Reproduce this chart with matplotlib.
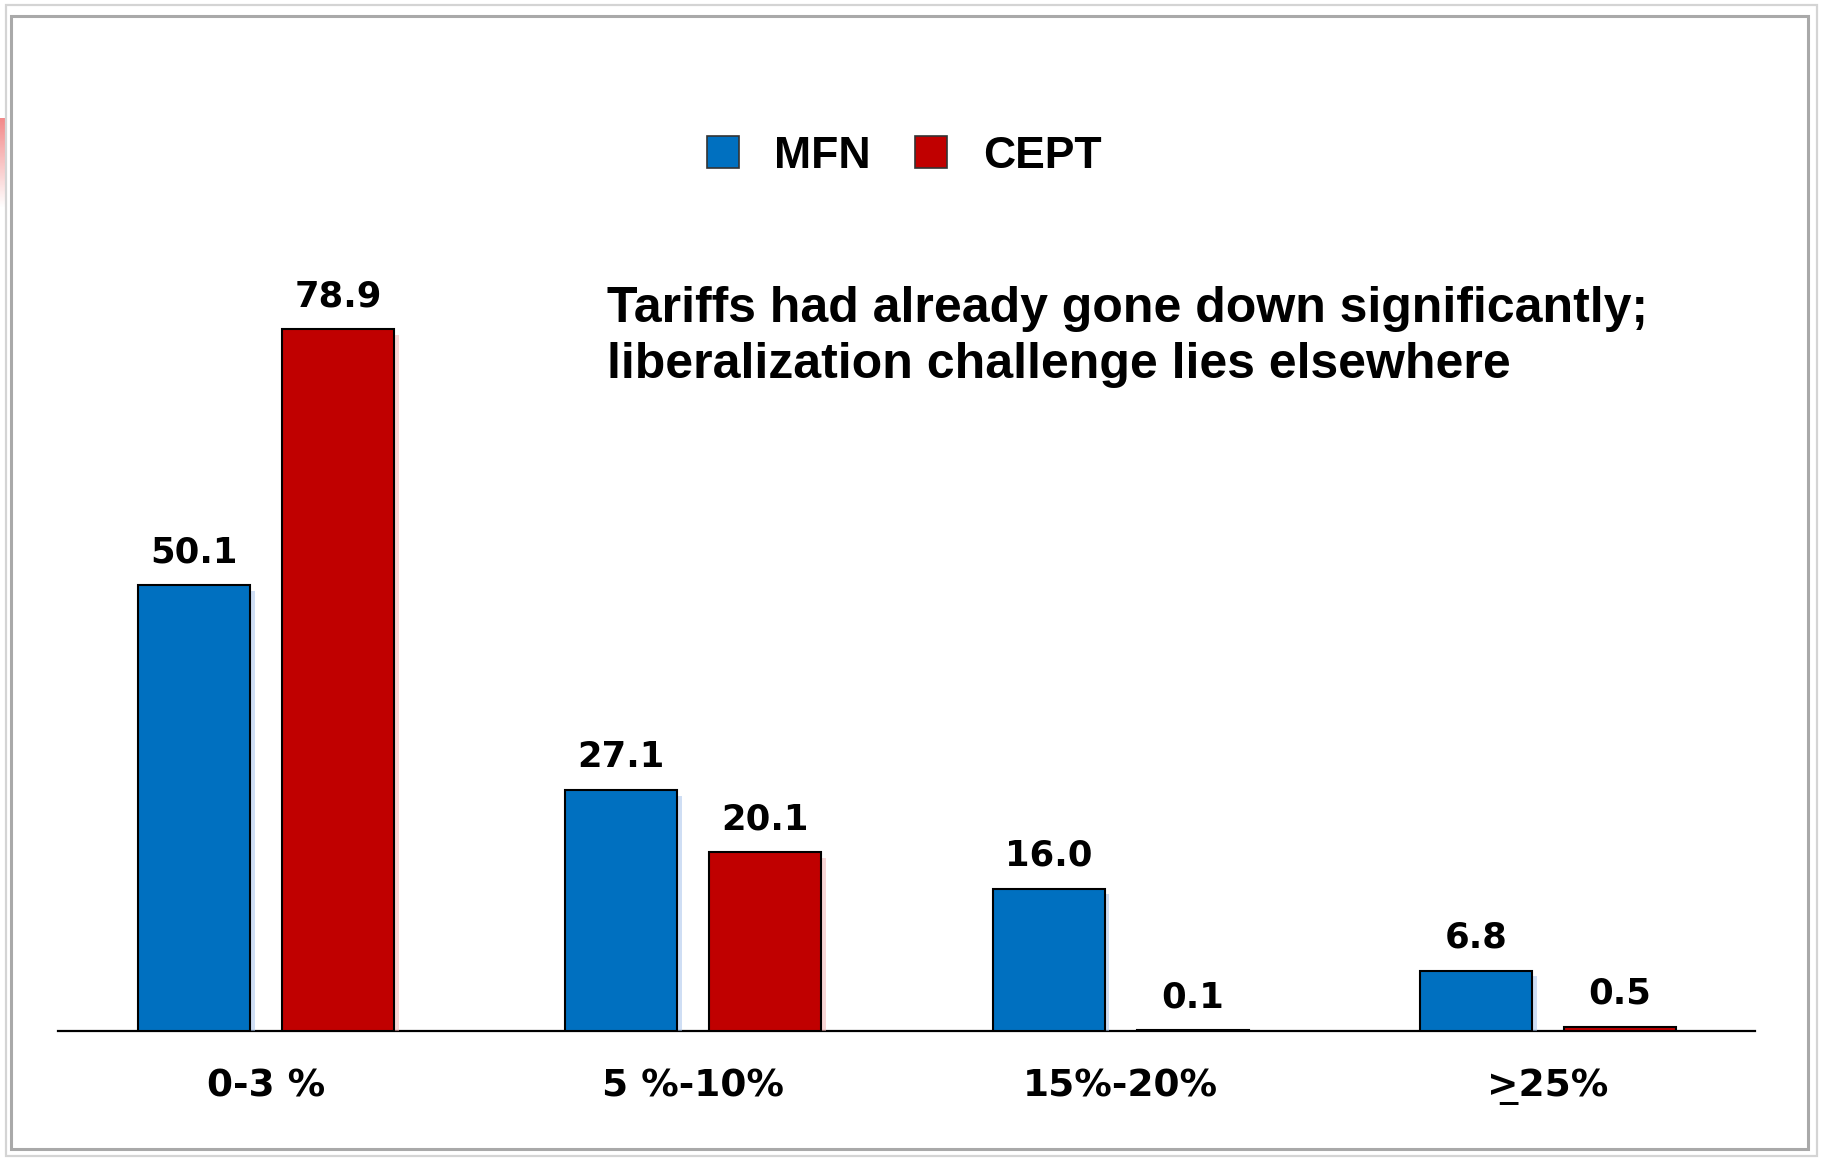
import numpy as np
import matplotlib
matplotlib.use("Agg")
import matplotlib.pyplot as plt
from matplotlib.patches import Patch, Rectangle
from matplotlib import patheffects as pe

# Share of tariff lines by tariff band (%)
categories = ["0-3 %", "5 %-10%", "15%-20%", ">\u033225%"]
mfn = [50.1, 27.1, 16.0, 6.8]
cept = [78.9, 20.1, 0.1, 0.5]
series_names = ["MFN", "CEPT"]
headline = ["Tariffs had already gone down significantly;",
            "liberalization challenge lies elsewhere"]

BLUE = "#0070C0"
RED = "#C00000"
W, H = 1822, 1158

fig = plt.figure(figsize=(W / 100, H / 100), dpi=100)
fig.patch.set_facecolor("white")

ax = fig.add_axes([58 / W, 1 - 1031 / H, (1755 - 58) / W, (1031 - 186) / H])
x = np.arange(len(categories))
width = 0.262
offset = 0.1685

def shadow(color):
    return [pe.SimplePatchShadow(offset=(3.5, -4), shadow_rgbFace=color, alpha=0.55),
            pe.Normal()]

b1 = ax.bar(x - offset, mfn, width, color=BLUE, edgecolor="black", linewidth=1.5,
            zorder=3)
b2 = ax.bar(x + offset, cept, width, color=RED, edgecolor="black", linewidth=1.5,
            zorder=3)
for r in b1:
    r.set_path_effects(shadow("#a8c4ec"))
for r in b2:
    r.set_path_effects(shadow("#f3b5b5"))

for bars, vals in ((b1, mfn), (b2, cept)):
    for r, v in zip(bars, vals):
        ax.annotate(f"{v:.1f}", (r.get_x() + r.get_width() / 2, v),
                    xytext=(0, 16.5), textcoords="offset points",
                    ha="center", va="baseline", fontsize=25.5,
                    fontweight="bold", family="DejaVu Sans", color="black")

ax.set_xlim(-0.487, 3.485)
ax.set_ylim(0, 95)
ax.set_xticks(x)
ax.set_xticklabels(categories, fontsize=27, fontweight="bold", family="DejaVu Sans")
ax.tick_params(axis="x", length=0, pad=27)
ax.set_yticks([])
for s in ("top", "right", "left"):
    ax.spines[s].set_visible(False)
ax.spines["bottom"].set_linewidth(1.6)
ax.spines["bottom"].set_color("black")
ax.set_facecolor("none")

# Legend
handles = [Patch(facecolor=BLUE, edgecolor="#333333", linewidth=1.2),
           Patch(facecolor=RED, edgecolor="#333333", linewidth=1.2)]
fig.legend(handles, series_names, loc="center", bbox_to_anchor=(904 / W, 1 - 156 / H),
           ncol=2, frameon=False, handlelength=0.72, handleheight=0.72,
           handletextpad=0.8, columnspacing=1.0,
           prop={"family": "Liberation Sans", "weight": "bold", "size": 32})

# Headline
for line, yb in zip(headline, (322, 378)):
    fig.text(607 / W, 1 - yb / H, line, ha="left", va="baseline", fontsize=36,
             fontweight="bold", family="Liberation Sans", color="black")

# Slide frame
fig.add_artist(Rectangle((6 / W, 1 - 1156 / H), (1817 - 6) / W, (1156 - 5) / H,
                         transform=fig.transFigure, fill=False,
                         edgecolor="#d4d4d4", linewidth=1.6))
fig.add_artist(Rectangle((11 / W, 1 - 1149 / H), (1808 - 11) / W, (1149 - 16) / H,
                         transform=fig.transFigure, fill=False,
                         edgecolor="#a9a9a9", linewidth=2.2))

# Faded red tab at the left edge
tab = fig.add_axes([0, 1 - 208 / H, 6 / W, 90 / H])
grad = np.linspace(0, 1, 64)[:, None]
tab.imshow(grad, aspect="auto", cmap=matplotlib.colors.LinearSegmentedColormap.from_list(
    "tab", ["#f38a8a", "#ffffff"]))
tab.axis("off")

fig.savefig("out.png", dpi=100)
